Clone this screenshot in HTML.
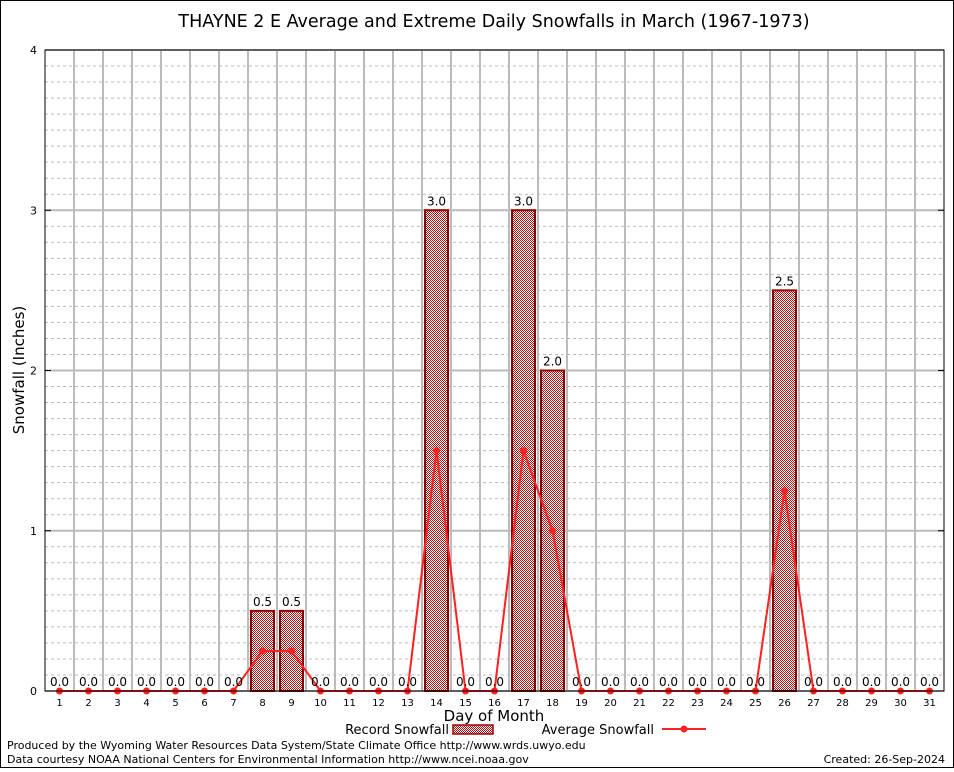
<!DOCTYPE html>
<html><head><meta charset="utf-8"><style>
body{margin:0;background:#fff;font-family:"DejaVu Sans","Liberation Sans",sans-serif;}
svg text{font-family:"DejaVu Sans","Liberation Sans",sans-serif;}
</style></head><body>
<svg id="chart" width="954" height="768" xmlns="http://www.w3.org/2000/svg">
<defs><pattern id="chk" width="2" height="2" patternUnits="userSpaceOnUse"><rect width="2" height="2" fill="#fff"/><rect width="1" height="1" fill="#b01010"/><rect x="1" y="1" width="1" height="1" fill="#b01010"/></pattern></defs>
<rect x="0.5" y="0.5" width="953" height="767" fill="#fff" stroke="#000"/>
<text x="494" y="27" font-size="17.5" text-anchor="middle">THAYNE 2 E Average and Extreme Daily Snowfalls in March (1967-1973)</text>
<g id="grid"></g><g id="bars"></g><g id="line"></g><g id="labels"></g>
<rect x="45" y="50" width="899" height="641" fill="none" stroke="#000"/>
<text transform="translate(24,370) rotate(-90)" font-size="15" text-anchor="middle">Snowfall (Inches)</text>
<text x="494" y="721" font-size="15" text-anchor="middle">Day of Month</text>
<g><text x="449" y="734" font-size="13" text-anchor="end">Record Snowfall</text><rect x="453" y="725" width="40" height="9" fill="url(#chk)" stroke="#a00000" stroke-width="1.5"/></g>
<g><text x="654" y="734" font-size="13" text-anchor="end">Average Snowfall</text><line x1="662" y1="729" x2="706" y2="729" stroke="#f22" stroke-width="2"/><circle cx="684" cy="729" r="3.5" fill="#f22"/></g>
<text x="7" y="749" font-size="11">Produced by the Wyoming Water Resources Data System/State Climate Office http://www.wrds.uwyo.edu</text>
<text x="7" y="763" font-size="11">Data courtesy NOAA National Centers for Environmental Information http://www.ncei.noaa.gov</text>
<text x="945" y="763" font-size="11" text-anchor="end">Created: 26-Sep-2024</text>
</svg>
<script>
const days=[1,2,3,4,5,6,7,8,9,10,11,12,13,14,15,16,17,18,19,20,21,22,23,24,25,26,27,28,29,30,31];
const recordSnow=[0,0,0,0,0,0,0,0.5,0.5,0,0,0,0,3.0,0,0,3.0,2.0,0,0,0,0,0,0,0,2.5,0,0,0,0,0];
const avgSnow=[0,0,0,0,0,0,0,0.25,0.25,0,0,0,0,1.5,0,0,1.5,1.0,0,0,0,0,0,0,0,1.25,0,0,0,0,0];
const yTicks=[0,1,2,3,4];
const NS="http://www.w3.org/2000/svg";
const X0=45,X1=944,Y0=691,Y1=50;
const xs=d=>X0+(d-0.5)*(X1-X0)/31;
const ys=v=>Y0-v*(Y0-Y1)/4;
function mk(t,a,p){const e=document.createElementNS(NS,t);for(const k in a)e.setAttribute(k,a[k]);p.appendChild(e);return e;}
const grid=document.getElementById('grid');
for(let i=1;i<40;i++){if(i%10===0)continue;const l=mk('line',{x1:X0,x2:X1,y1:ys(i/10),y2:ys(i/10),stroke:'#bbb','stroke-dasharray':'3,3'},grid);

}
yTicks.forEach(t=>{const l=mk('line',{x1:X0,x2:X1,y1:ys(t),y2:ys(t),stroke:'#bbb','stroke-width':2},grid);


const tx=mk('text',{x:X0-8,y:ys(t)+4,'font-size':11,'text-anchor':'end'},grid);tx.textContent=t;


mk('line',{x1:X0,x2:X0+6,y1:ys(t),y2:ys(t),stroke:'#000'},grid);mk('line',{x1:X1-6,x2:X1,y1:ys(t),y2:ys(t),stroke:'#000'},grid);});
days.forEach(d=>{if(d<31){const l=mk('line',{x1:xs(d+0.5),x2:xs(d+0.5),y1:Y1,y2:Y0,stroke:'#bbb','stroke-width':2},grid);

}
const tx=mk('text',{x:xs(d),y:Y0+15,'font-size':10,'text-anchor':'middle'},grid);tx.textContent=d;

});
const bars=document.getElementById('bars'),labels=document.getElementById('labels');
days.forEach((d,i)=>{const v=recordSnow[i];
if(v>0){const r=mk('rect',{x:xs(d)-11.5,y:ys(v),width:23,height:ys(0)-ys(v),fill:'url(#chk)',stroke:'#900000','stroke-width':2},bars);

}
const t=mk('text',{x:xs(d),y:ys(v)-5,'font-size':12,'text-anchor':'middle'},labels);t.textContent=v.toFixed(1);

});
const line=document.getElementById('line');
const p=mk('polyline',{points:days.map((d,i)=>xs(d)+','+ys(avgSnow[i])).join(' '),fill:'none',stroke:'#ff2020','stroke-width':2},line);


days.forEach((d,i)=>{const c=mk('circle',{cx:xs(d),cy:ys(avgSnow[i]),r:3.5,fill:'#ff2020'},line);

});
</script>
</body></html>
